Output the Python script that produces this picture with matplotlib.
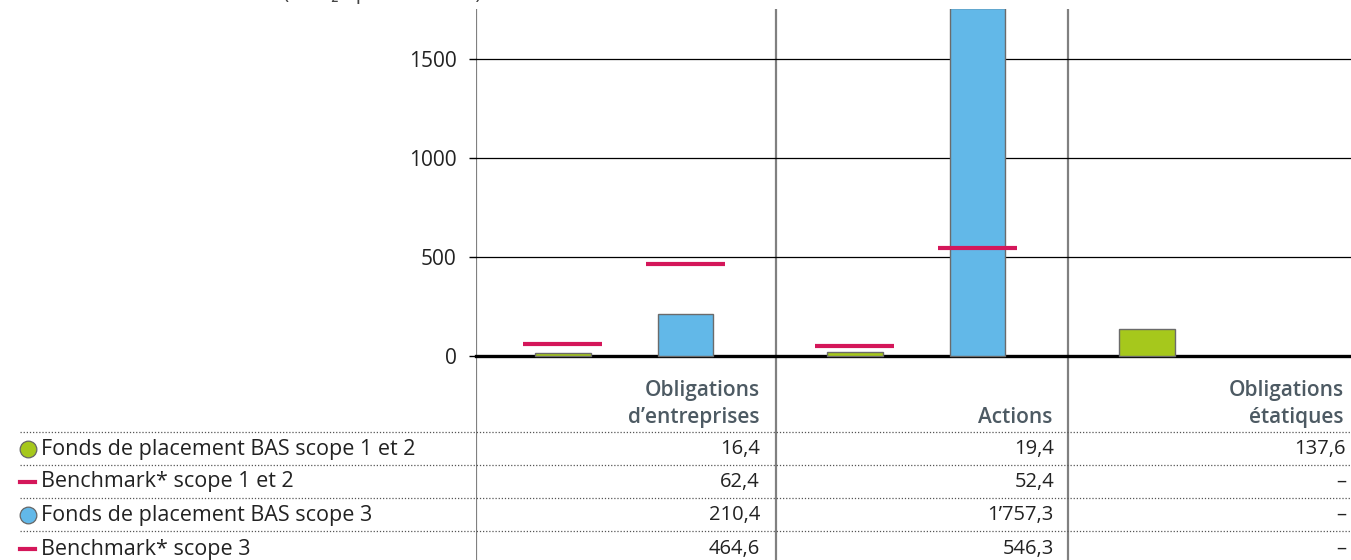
import numpy as np
import matplotlib; matplotlib.use("Agg")
import matplotlib.pyplot as plt
from matplotlib.lines import Line2D

plt.rcParams['font.family'] = ['Open Sans', 'DejaVu Sans']

categories = ["Obligations\nd\u2019entreprises", "Actions", "Obligations\n\u00e9tatiques"]
fonds_12 = [16.4, 19.4, 137.6]
bench_12 = [62.4, 52.4, None]
fonds_3 = [210.4, 1757.3, None]
bench_3 = [464.6, 546.3, None]
row_labels = ["Fonds de placement BAS scope 1 et 2", "Benchmark* scope 1 et 2",
              "Fonds de placement BAS scope 3", "Benchmark* scope 3"]
yticks = [0, 500, 1000, 1500]

C_GREEN = "#a6c81c"; C_BLUE = "#62b8e8"; C_RED = "#d4175a"
C_HEAD = "#4d5a63"; C_TXT = "#222222"

W, H = 1351, 560
fig = plt.figure(figsize=(W/100, H/100), dpi=100)
def fx(px): return px / W
def fy(py): return 1 - py / H

# chart area runs from the top down to the bottom so the column dividers cross the table
ax = fig.add_axes([fx(476), 0, 1 - fx(476), fy(9)])
x0 = (476 - 484) / 292
ax.set_xlim(x0, x0 + (W - 476) / 292)
ax.set_ylim((356 - 560) / 0.198, (356 - 9) / 0.198)
for s in ax.spines.values(): s.set_visible(False)
ax.set_xticks([])
ax.set_yticks(yticks)
ax.set_yticklabels([str(t) for t in yticks], fontsize=15, color=C_TXT)
ax.tick_params(axis='y', length=5, width=1, color="black", pad=9)
for t in yticks:
    ax.axhline(t, color="black", lw=2.4 if t == 0 else 0.9, zorder=1, clip_on=False)

for b in [x0, 1, 2]:
    ax.axvline(b, color="#808080", lw=1.6, zorder=0)

x = np.arange(len(categories))
gx = x + 0.27; bx = x + 0.69; bw = 0.19; lw_half = 0.135
def arr(v): return np.array([np.nan if a is None else a for a in v], float)
ax.bar(gx, arr(fonds_12), width=bw, color=C_GREEN, edgecolor="#6b6b6b", lw=1, zorder=2)
ax.bar(bx, arr(fonds_3), width=bw, color=C_BLUE, edgecolor="#6b6b6b", lw=1, zorder=2)
for xs, vals in [(gx, bench_12), (bx, bench_3)]:
    for xi, v in zip(xs, vals):
        if v is not None:
            ax.hlines(v, xi - lw_half, xi + lw_half, color=C_RED, lw=3, zorder=3)

# column headers
for i, c in enumerate(categories):
    ax.text(i + 0.945, (356 - 428) / 0.198, c, ha="right", va="bottom", fontsize=15,
            fontweight="semibold", color=C_HEAD, linespacing=1.35)

# table below the chart
def fmt(v):
    if v is None: return "\u2013"
    s = f"{v:,.1f}".replace(",", "\u2019").replace(".", ",")
    return s
rows = [fonds_12, bench_12, fonds_3, bench_3]
row_y = [449, 482, 515, 549]
line_y = [432, 465, 498, 531]
for ly in line_y:
    fig.add_artist(Line2D([fx(20), 1], [fy(ly), fy(ly)], color="#555555", lw=0.9,
                          linestyle=(0, (1, 1.5))))
val_x = [760, 1054, 1346]
for r, (lab, vals, ry) in enumerate(zip(row_labels, rows, row_y)):
    fig.text(fx(41), fy(ry), lab, ha="left", va="center", fontsize=15.5, color=C_TXT)
    for vx, v in zip(val_x, vals):
        fig.text(fx(vx), fy(ry), fmt(v), ha="right", va="center", fontsize=14.5, color=C_TXT)
    if r in (0, 2):
        fig.add_artist(Line2D([fx(28)], [fy(ry)], marker="o", markersize=12,
                              markerfacecolor=C_GREEN if r == 0 else C_BLUE,
                              markeredgecolor="#666666", markeredgewidth=0.9))
    else:
        fig.add_artist(Line2D([fx(20), fx(35)], [fy(ry), fy(ry)], color=C_RED, lw=3))

fig.text(fx(283), fy(-7), "(t CO\u2082e par mio CHF)", ha="left", va="center",
         fontsize=15, color="#444444")

plt.savefig("out.png", dpi=100)
